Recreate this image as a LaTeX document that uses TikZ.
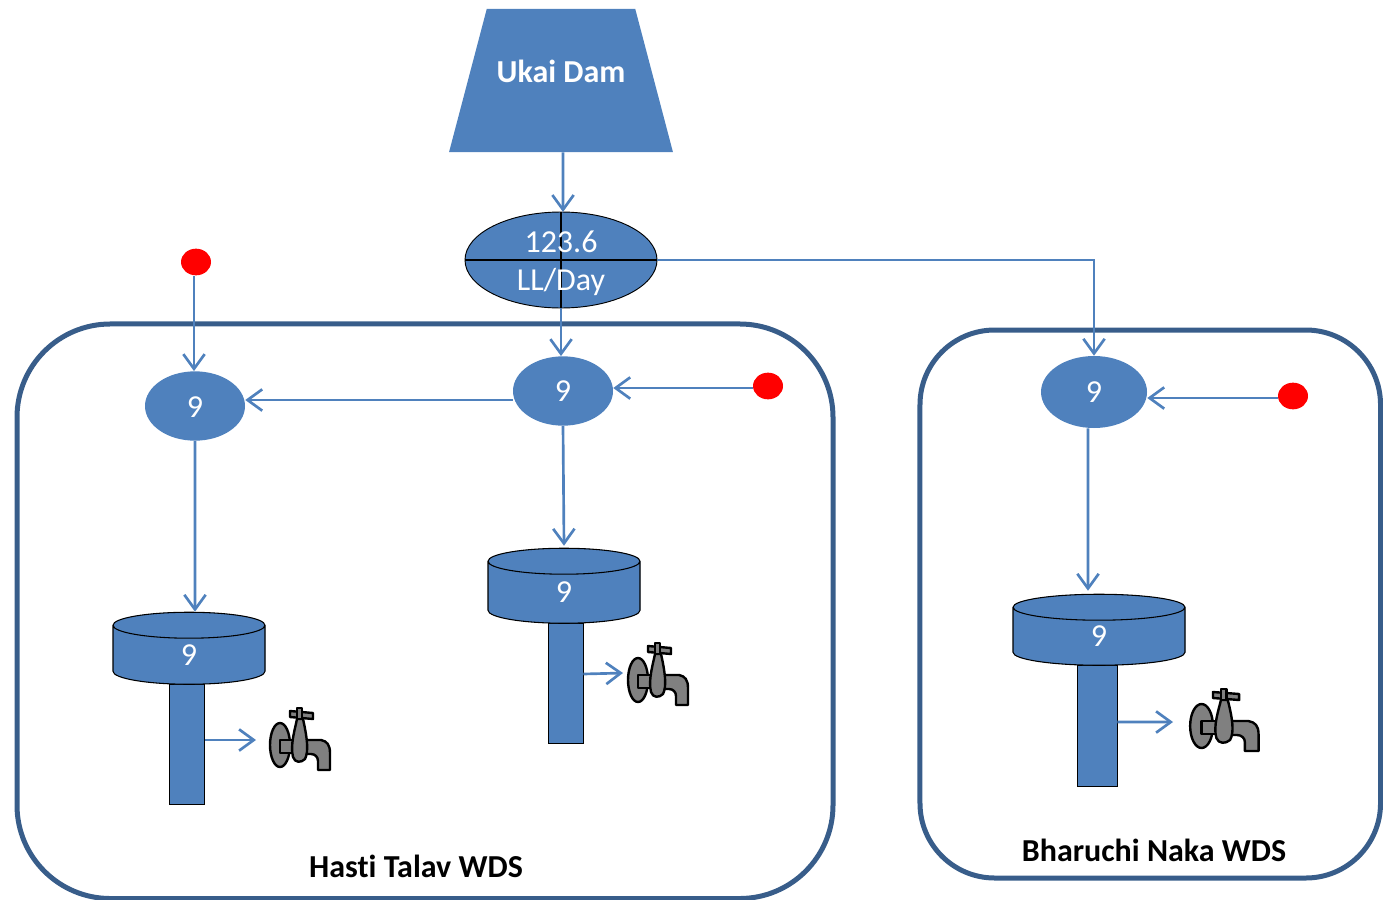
\documentclass[tikz,border=0pt]{standalone}
\usepackage{fontspec}
\setmainfont[Ligatures=NoCommon]{Carlito}
\usetikzlibrary{shapes.geometric,arrows.meta}
\definecolor{blu}{HTML}{4F81BD}
\definecolor{frame}{HTML}{385D8A}
\tikzset{
  flow/.style={draw=blu,line width=2pt,-{Straight Barb[length=11pt,width=16pt,line width=2pt]}},
  wds/.style={draw=frame,line width=3.75pt,rectangle,inner sep=0pt},
  fillnode/.style={fill=blu,text=white,inner sep=0pt,font=\fontsize{24}{28}\selectfont},
  source/.style={fillnode,ellipse},
  splittext/.style={text=white,inner sep=0pt,anchor=base,font=\fontsize{24}{28}\selectfont},
  reddot/.style={ellipse,fill=red,inner sep=0pt,minimum width=22.5pt,minimum height=20pt},
  tank/.style={fillnode,draw=black,line width=.8pt,cylinder,shape border rotate=90,cylinder uses custom fill,cylinder body fill=blu,cylinder end fill=blu,minimum width=114pt},
  stem/.style={draw=black,line width=.7pt,fill=blu,rectangle,inner sep=0pt},
  title/.style={font=\bfseries\fontsize{24}{28}\selectfont,inner sep=0pt},
  tap/.pic={
    \begin{scope}[draw=black,fill=black!50,line width=1.8pt,line join=round]
      \filldraw (34,33) -- (52,33) .. controls (58,34) and (61,38) .. (61,46) -- (61,63) -- (49,63) -- (49,54) .. controls (49,50) and (46,47) .. (42,47) -- (32,47) -- cycle;
      \filldraw (11,38) ellipse [x radius=10,y radius=22];
      \filldraw (11,33) rectangle (28,46);
      \filldraw (24,50) .. controls (21,38) and (26,22) .. (28,12) -- (34,12) .. controls (38,30) and (40,44) .. (36,52) .. controls (32,56) and (26,56) .. (24,50) -- cycle;
      \filldraw (21,4) -- (44,6) -- (44,12) -- (21,10) -- cycle;
      \filldraw (28,1) rectangle (33,12);
    \end{scope}}
}
\begin{document}
\begin{tikzpicture}[x=0.75pt,y=-0.75pt]
\useasboundingbox (0,0) rectangle (1383,899);
\clip (0,0) rectangle (1383,899);
% frames
\node[wds,minimum width=612pt,minimum height=430.9pt,rounded corners=70pt] (hasti) at (425,611.25) {};
\node[wds,minimum width=345.4pt,minimum height=411pt,rounded corners=56pt] (bharuchi) at (1150.25,604) {};
\node[title] (hastilabel) at (416,866) {Hasti Talav WDS};
\node[title] (bharuchilabel) at (1154,850) {Bharuchi Naka WDS};
% source
\node[trapezium,fill=blu,text=white,font=\bfseries\fontsize{24}{28}\selectfont,inner sep=0pt,trapezium stretches=true,trapezium angle=52,minimum width=168pt,minimum height=107.25pt] (dam) at (561,80.5) {\raisebox{14.5pt}{Ukai Dam}};
\node[source,draw=black,line width=.7pt,minimum width=144pt,minimum height=72pt,
  path picture={\draw[black,line width=1pt] (path picture bounding box.north) -- (path picture bounding box.south) (path picture bounding box.west) -- (path picture bounding box.east);}] (split) at (561,260) {};
\node[splittext] (splittop) at (561,252) {123.6};
\node[splittext] (splitbottom) at (561,290) {LL/Day};
% flow nodes
\node[source,minimum width=75pt,minimum height=52pt] (na) at (195,406) {\raisebox{0pt}[17pt][0pt]{9}};
\node[source,minimum width=75pt,minimum height=52pt] (nb) at (563,391) {9};
\node[source,minimum width=79.5pt,minimum height=54pt] (nc) at (1094,392) {9};
\node[reddot] (ra) at (196,262) {};
\node[reddot] (rb) at (768,386) {};
\node[reddot] (rc) at (1293,396) {};
% stems and tanks
\node[stem,minimum width=26.25pt,minimum height=90pt] (sa) at (187,744) {};
\node[stem,minimum width=26.25pt,minimum height=90pt] (sb) at (565.5,683) {};
\node[stem,minimum width=30pt,minimum height=90.75pt] (sc) at (1097,725.5) {};
\node[tank,minimum height=54pt,aspect=1.6] (ta) at (189,655) {9};
\node[tank,minimum height=56.25pt,aspect=1.6] (tb) at (564,592.5) {9};
\node[tank,minimum width=129pt,minimum height=53.25pt,aspect=1.6] (tc) at (1099,636.5) {9};
% taps
\path (269,707) pic {tap};
\path (627,642) pic {tap};
\path (1189,688) pic[xscale=1.14] {tap};
\coordinate (tapa) at (256,740);
\coordinate (tapb) at (623,673);
\coordinate (tapc) at (1173,722);
% connectors
\draw[flow] ([xshift=1.5pt]dam.south) -- ([xshift=1.5pt,yshift=-.3pt]split.north);
\draw[flow] (split.south) -- ([xshift=-1.5pt]nb.north);
\draw[flow] (split.east) -| (nc.north);
\draw[flow] ([xshift=-1.5pt]ra.south) -- ([xshift=-.75pt]na.north);
\draw[flow] ([yshift=-1.5pt]rb.west) -- ([yshift=2.25pt]nb.east);
\draw[flow] ([yshift=-1.5pt]rc.west) -- ([yshift=-4.5pt]nc.east);
\draw[flow] ([yshift=-6.75pt]nb.west) -- ([yshift=4.5pt]na.east);
\draw[flow] (na.south) -- ([xshift=4.5pt]ta.north);
\draw[flow] (nb.south) -- ([yshift=1.5pt]tb.north);
\draw[flow] ([xshift=-4.5pt]nc.south) -- ([xshift=-8.25pt,yshift=2.25pt]tc.north);
\draw[flow] ([yshift=3pt]sa.east) -- (tapa);
\draw[flow] ([yshift=6.75pt]sb.east) -- (tapb);
\draw[flow] ([yshift=2.6pt]sc.east) -- (tapc);
\end{tikzpicture}
\end{document}
